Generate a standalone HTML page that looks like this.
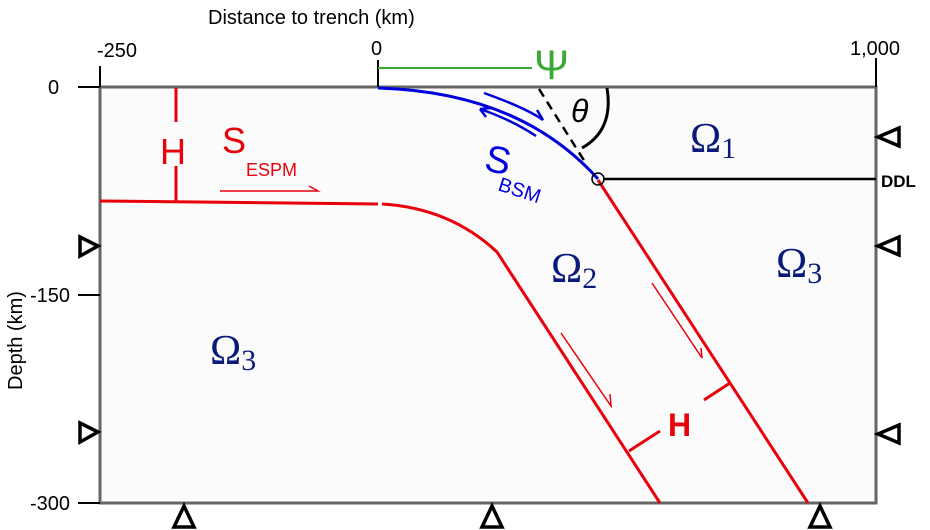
<!DOCTYPE html>
<html><head><meta charset="utf-8"><style>
html,body{margin:0;padding:0;background:#fff;width:930px;height:530px;overflow:hidden}
svg{display:block}
text{font-family:"Liberation Sans",sans-serif}
.om{font-family:"Liberation Serif",serif;fill:#0a1a7a}
</style></head><body>
<svg width="930" height="530" viewBox="0 0 930 530" xmlns="http://www.w3.org/2000/svg">
<rect x="100" y="87" width="776" height="416" fill="#fbfbfb" stroke="#666" stroke-width="3"/>
<g stroke="#000" stroke-width="2" fill="none">
<line x1="100" y1="87" x2="100" y2="66"/><line x1="876" y1="87" x2="876" y2="58"/>
<line x1="378" y1="87" x2="378" y2="60"/>
<line x1="78" y1="87" x2="100" y2="87"/><line x1="78" y1="295" x2="100" y2="295"/><line x1="78" y1="503" x2="100" y2="503"/>
</g>
<g font-size="20" fill="#000">
<text x="208" y="24">Distance to trench (km)</text>
<text x="97" y="57">-250</text>
<text x="371" y="55">0</text>
<text x="850" y="55">1,000</text>
<text x="48" y="94">0</text>
<text x="30" y="302">-150</text>
<text x="30" y="510">-300</text>
<text transform="translate(22,390) rotate(-90)">Depth (km)</text>
</g>
<g stroke="#000" stroke-width="3.5" fill="none" stroke-linejoin="miter">
<path d="M80,237 L98,246 L80,256 Z"/><path d="M80,423 L98,432 L80,442 Z"/>
<path d="M878,137 L899,128 L899,146 Z"/><path d="M878,246 L899,237 L899,255 Z"/><path d="M878,434 L899,425 L899,443 Z"/>
<path d="M184,506 L174,527 L194,527 Z"/><path d="M492,506 L482,527 L502,527 Z"/><path d="M820,506 L810,527 L830,527 Z"/>
</g>
<line x1="378" y1="68" x2="532" y2="68" stroke="#3aaa35" stroke-width="2"/>
<text x="534" y="79" font-size="42" fill="#3aaa35" font-family="Liberation Serif,serif">Ψ</text>
<g stroke="#e8000b" stroke-width="3" fill="none">
<path d="M100,201 L378,204"/>
<path d="M382,204 Q450,208 497,252 L660,503"/>
<path d="M598,180 L808,503"/>
<line x1="176" y1="88" x2="176" y2="122"/><line x1="176" y1="166" x2="176" y2="201"/>
<line x1="629" y1="451" x2="660" y2="431"/><line x1="704" y1="400" x2="730" y2="383"/>
</g>
<g stroke="#e8000b" stroke-width="1.5" fill="none">
<path d="M220,191 L318,191 L309,186"/>
<path d="M652,283 L702,358 L701,348"/>
<path d="M561,333 L611,406 L610,394"/>
</g>
<text x="160" y="164" font-size="36" fill="#e8000b">H</text>
<text x="222" y="153" font-size="36" fill="#e8000b">S</text>
<text x="246" y="176" font-size="18" fill="#e8000b">ESPM</text>
<text x="668" y="436" font-size="32" font-weight="bold" fill="#e8000b">H</text>
<path d="M378,88 Q520,92 598,179" stroke="#0000dd" stroke-width="3" fill="none"/>
<path d="M484,93 Q526,108 543,120 L537,110" stroke="#0000dd" stroke-width="2.5" fill="none"/>
<path d="M480,109 Q512,120 536,136 M480,109 L491,108 M480,109 L486,117" stroke="#0000dd" stroke-width="2.5" fill="none"/>
<text transform="translate(483,170) rotate(12)" font-size="38" fill="#0000dd">S</text>
<text transform="translate(497,190) rotate(18)" font-size="20" fill="#0000dd">BSM</text>
<line x1="539" y1="89" x2="585" y2="162" stroke="#000" stroke-width="2.5" stroke-dasharray="9,6"/>
<path d="M607,88 Q614,130 582,148" stroke="#000" stroke-width="3" fill="none"/>
<text x="571" y="122" font-size="32" font-style="italic" font-family="Liberation Serif,serif">θ</text>
<line x1="603" y1="179" x2="876" y2="179" stroke="#000" stroke-width="2.5"/>
<circle cx="598" cy="179" r="6" fill="none" stroke="#000" stroke-width="1.5"/>
<text x="881" y="187" font-size="17" font-weight="bold">DDL</text>
<text class="om" x="690" y="152" font-size="42">Ω<tspan font-size="30" dy="6">1</tspan></text>
<text class="om" x="551" y="282" font-size="42">Ω<tspan font-size="30" dy="6">2</tspan></text>
<text class="om" x="776" y="277" font-size="42">Ω<tspan font-size="30" dy="6">3</tspan></text>
<text class="om" x="210" y="364" font-size="42">Ω<tspan font-size="30" dy="6">3</tspan></text>
</svg>
</body></html>
